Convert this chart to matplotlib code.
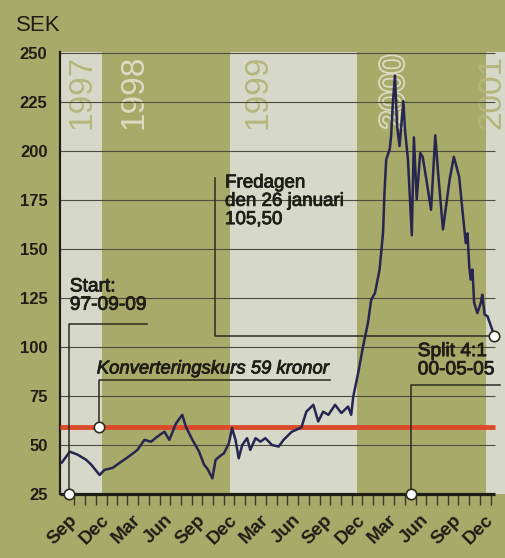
import matplotlib
matplotlib.use("Agg")
import matplotlib.pyplot as plt
import matplotlib.patheffects as pe
import pandas as pd

# share price (SEK)
dates = ["1997-09-09", "1997-10-02", "1997-10-25", "1997-11-18", "1997-12-02", "1997-12-26",
         "1998-01-09", "1998-02-01", "1998-02-26", "1998-03-12", "1998-03-26", "1998-04-13",
         "1998-05-03", "1998-05-22", "1998-06-09", "1998-06-29", "1998-07-13", "1998-08-01",
         "1998-08-19", "1998-08-29", "1998-09-17", "1998-10-06", "1998-10-20", "1998-10-29",
         "1998-11-13", "1998-11-22", "1998-12-02", "1998-12-16", "1998-12-30",
         "1999-01-08", "1999-01-18", "1999-01-27", "1999-02-06", "1999-02-20", "1999-03-01",
         "1999-03-16", "1999-03-30", "1999-04-13", "1999-05-02", "1999-05-21", "1999-06-04",
         "1999-06-27", "1999-07-25", "1999-08-08", "1999-08-28", "1999-09-11", "1999-09-25",
         "1999-10-10", "1999-10-29", "1999-11-16", "1999-12-05", "1999-12-14", "1999-12-20",
         "2000-01-03", "2000-01-17", "2000-01-31", "2000-02-09", "2000-02-20", "2000-03-04",
         "2000-03-14", "2000-03-18", "2000-03-23", "2000-04-02", "2000-04-06", "2000-04-11",
         "2000-04-17", "2000-04-23", "2000-04-30", "2000-05-11", "2000-05-15", "2000-05-24",
         "2000-06-04", "2000-06-10", "2000-06-18", "2000-06-28", "2000-07-05", "2000-07-16",
         "2000-07-29", "2000-08-10", "2000-08-18", "2000-09-01", "2000-09-20", "2000-10-02",
         "2000-10-17", "2000-10-27", "2000-11-05", "2000-11-10", "2000-11-15", "2000-11-19",
         "2000-11-24", "2000-11-29", "2000-12-08", "2000-12-18", "2000-12-22", "2000-12-29",
         "2001-01-06", "2001-01-26"]
prices = [41, 46.6, 45, 42.4, 40, 34.7,
          37.3, 38.3, 41.5, 43.2, 45, 47.5,
          52.6, 51.7, 54.3, 56.8, 52.6, 61,
          65.4, 59.4, 52.6, 46.6, 40, 38.1,
          33, 42.4, 44, 45.8, 50.9,
          58.6, 52.6, 43.2, 50, 53.5, 47.5,
          53.5, 51.7, 53.5, 50, 49.2, 52.6,
          56.7, 59, 67, 70.5, 62, 67,
          65.4, 70.5, 66.3, 69.6, 65.4, 74.7,
          86.8, 100.3, 112.4, 124, 127.6, 139.5,
          158.4, 178.8, 195.7, 200.9, 207.6, 224.7,
          238.5, 212.7, 202.5, 225.5, 212, 195.7,
          157, 207, 175.3, 199, 197, 185,
          170, 208, 189, 160, 185.5, 197,
          187, 169, 153, 158, 141, 134.4,
          139.5, 122.5, 117.3, 122.5, 126.7, 116.5,
          115.7, 105.5]

konv_kurs = 59
y_ticks = [25, 50, 75, 100, 125, 150, 175, 200, 225, 250]
month_names = ["Sep", "Dec", "Mar", "Jun"]
years = ["1997", "1998", "1999", "2000", "2001"]

OLIVE = "#a8aa6a"
LIGHT = "#d6d9ca"
RED = "#dc4a2c"
NAVY = "#262650"
INK = "#1e1e16"

plt.rcParams["font.family"] = ["Liberation Sans", "DejaVu Sans"]

d = pd.to_datetime(dates)
x0 = pd.Timestamp("1997-09-04")
x_end = pd.Timestamp("2001-01-27")

fig = plt.figure(figsize=(5.05, 5.58), dpi=100, facecolor=OLIVE)
ax = fig.add_axes([60 / 505, 64 / 558, 445 / 505, 442 / 558])
ax.set_facecolor(OLIVE)
ax.set_xlim(x0, pd.Timestamp("2001-02-25"))
ax.set_ylim(25, 250.5)

# light bands for odd years
for a, b in [(x0, "1998-01-01"), ("1999-01-01", "2000-01-01"), ("2001-01-01", "2001-03-01")]:
    ax.axvspan(pd.Timestamp(a), pd.Timestamp(b), color=LIGHT, lw=0, zorder=0)

# year labels
year_x = ["1997-11-06", "1998-04-03", "1999-03-22", "2000-04-16", "2001-01-19"]
for yr, xs in zip(years, year_x):
    on_light = yr in ("1997", "1999", "2001")
    col = "#b4b67c" if on_light else ("#dcdcc4" if yr == "1998" else OLIVE)
    t = ax.text(pd.Timestamp(xs), 0.993, yr, rotation=90, ha="center", va="top",
                fontsize=24, color=col, transform=ax.get_xaxis_transform(), zorder=1)
    if yr == "2000":
        t.set_path_effects([pe.Stroke(linewidth=2.5, foreground="#dcdcc4"), pe.Normal()])

ax.hlines(y_ticks[1:], x0, x_end, colors="#4d4d3c", lw=0.8, zorder=2)
ax.hlines(konv_kurs, x0, x_end, colors=RED, lw=3.5, zorder=3)
ax.plot(d, prices, color=NAVY, lw=1.8, zorder=4)

for s in ["top", "right", "bottom"]:
    ax.spines[s].set_visible(False)
ax.spines["left"].set_linewidth(1.6)
ax.spines["left"].set_color(INK)
ax.hlines(25, x0, x_end, colors=INK, lw=2.3, zorder=6, clip_on=False)

# monthly ticks, labels every third month
ticks = pd.date_range("1997-09-15", "2001-01-15", freq="MS") + pd.Timedelta(days=14)
labels = [month_names[i // 3 % 4] if i % 3 == 0 else "" for i in range(len(ticks))]
ax.set_xticks(ticks)
ax.set_xticklabels(labels, rotation=45, ha="right", va="center", rotation_mode="anchor",
                   fontsize=13.5, fontweight="bold", color=INK)
ax.tick_params(axis="x", length=8, width=1, color="#3a3a2c", pad=9)
ax.set_yticks(y_ticks)
ax.set_yticklabels([str(v) for v in y_ticks], fontsize=12, fontweight="bold", color=INK)
ax.tick_params(axis="y", length=0, pad=9)

fig.text(16 / 505, 1 - 31 / 558, "SEK", fontsize=16, color=INK, va="baseline")

line_kw = dict(color="#2c2c20", lw=1.1, zorder=5)
circ_kw = dict(marker="o", ms=7.5, mfc="white", mec="#2c2c20", mew=1.2, zorder=7, clip_on=False)
thick = [pe.withStroke(linewidth=0.6, foreground=INK)]

# start
sx = pd.Timestamp("1997-09-29")
ax.plot([sx, sx, pd.Timestamp("1998-05-10")], [25, 111.7, 111.7], **line_kw)
ax.plot([sx], [25], **circ_kw)
ax.text(pd.Timestamp("1997-10-02"), 135, "Start:\n97-09-09", fontsize=13.8, color=INK,
        va="top", ha="left", linespacing=1.1, zorder=6, path_effects=thick)

# conversion rate
kx = pd.Timestamp("1997-12-24")
ax.plot([kx, kx, pd.Timestamp("1999-10-14")], [konv_kurs, 83.2, 83.2], **line_kw)
ax.plot([kx], [konv_kurs], **circ_kw)
ax.text(pd.Timestamp("1997-12-18"), 86.5, "Konverteringskurs 59 kronor", fontsize=13.3,
        style="italic", color=INK, va="baseline", ha="left", zorder=6, path_effects=thick)

# latest close
fx = pd.Timestamp("1998-11-20")
ax.plot([fx, fx, d[-1]], [186.2, prices[-1], prices[-1]], **line_kw)
ax.plot([d[-1]], [prices[-1]], **circ_kw)
ax.text(pd.Timestamp("1998-12-19"), 188, "Fredagen\nden 26 januari\n105,50", fontsize=13.5,
        color=INK, va="top", ha="left", linespacing=1.1, zorder=6, path_effects=thick)

# split
px = pd.Timestamp("2000-06-03")
ax.plot([px, px, pd.Timestamp("2001-02-10")], [25, 80.6, 80.6], **line_kw)
ax.plot([px], [25], **circ_kw)
ax.text(pd.Timestamp("2000-06-21"), 102, "Split 4:1\n00-05-05", fontsize=13.8, color=INK,
        va="top", ha="left", linespacing=1.1, zorder=6, path_effects=thick)

fig.savefig("out.png", dpi=100, facecolor=OLIVE)
